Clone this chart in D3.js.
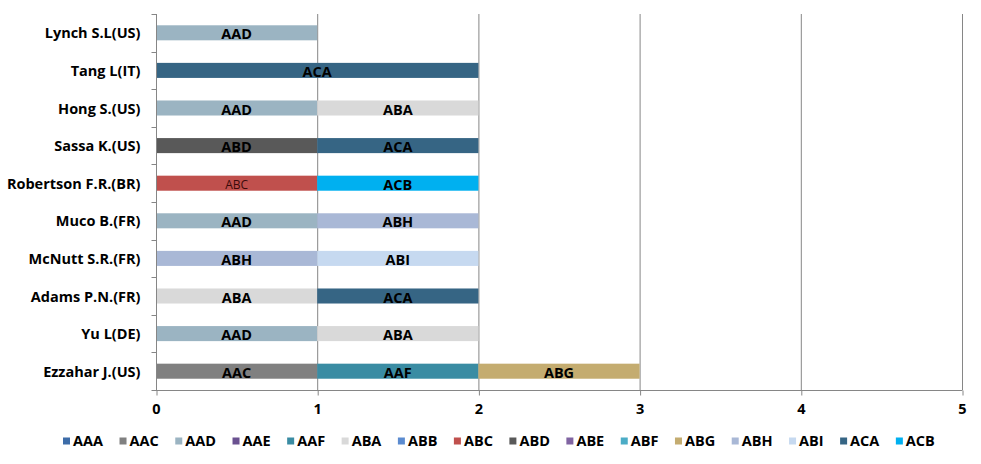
<!DOCTYPE html>
<html><head><meta charset="utf-8">
<script src="https://cdn.jsdelivr.net/npm/d3@7"></script>
<style>
body{margin:0;background:#fff;}
text{font-family:"Open Sans","Noto Sans",sans-serif;}
</style></head>
<body><svg id="c" width="981" height="464"></svg>
<script>
const categories = ["Lynch S.L(US)","Tang L(IT)","Hong S.(US)","Sassa K.(US)","Robertson F.R.(BR)","Muco B.(FR)","McNutt S.R.(FR)","Adams P.N.(FR)","Yu L(DE)","Ezzahar J.(US)"];
const seriesNames = ["AAA","AAC","AAD","AAE","AAF","ABA","ABB","ABC","ABD","ABE","ABF","ABG","ABH","ABI","ACA","ACB"];
const seriesColors = ["#3D6CA8","#808080","#9BB4C2","#6A5190","#3A8CA3","#D9D9D9","#5B8BD0","#C0504D","#595959","#8064A2","#4BACC6","#C4AC70","#A9B8D6","#C6D9F0","#366584","#00B0F0"];
// values per category, top to bottom
const AAA = [0,0,0,0,0,0,0,0,0,0];
const AAC = [0,0,0,0,0,0,0,0,0,1];
const AAD = [1,0,1,0,0,1,0,0,1,0];
const AAE = [0,0,0,0,0,0,0,0,0,0];
const AAF = [0,0,0,0,0,0,0,0,0,1];
const ABA = [0,0,1,0,0,0,0,1,1,0];
const ABB = [0,0,0,0,0,0,0,0,0,0];
const ABC = [0,0,0,0,1,0,0,0,0,0];
const ABD = [0,0,0,1,0,0,0,0,0,0];
const ABE = [0,0,0,0,0,0,0,0,0,0];
const ABF = [0,0,0,0,0,0,0,0,0,0];
const ABG = [0,0,0,0,0,0,0,0,0,1];
const ABH = [0,0,0,0,0,1,1,0,0,0];
const ABI = [0,0,0,0,0,0,1,0,0,0];
const ACA = [0,2,0,1,0,0,0,1,0,0];
const ACB = [0,0,0,0,1,0,0,0,0,0];
const xTicks = [0,1,2,3,4,5];

const seriesValues = {AAA,AAC,AAD,AAE,AAF,ABA,ABB,ABC,ABD,ABE,ABF,ABG,ABH,ABI,ACA,ACB};
const rows = categories.map((c,i)=>{const r={cat:c}; seriesNames.forEach(s=>r[s]=seriesValues[s][i]); return r;});
const stack = d3.stack().keys(seriesNames)(rows);

const FS = 14.5;
const svg = d3.select("#c");
const m = {l:156, r:19, t:14, b:74};
const W = 981, H = 464;
const x = d3.scaleLinear().domain([0,5]).range([m.l, W-m.r]);
const y = d3.scaleBand().domain(categories).range([m.t, H-m.b]).paddingInner(0.6).paddingOuter(0.3);
const color = d3.scaleOrdinal().domain(seriesNames).range(seriesColors);
const gridC = "#868686";

// gridlines
svg.append("g").selectAll("line").data(xTicks.slice(1)).join("line")
  .attr("x1",d=>x(d)+0.5).attr("x2",d=>x(d)+0.5).attr("y1",m.t).attr("y2",H-m.b)
  .attr("stroke",gridC).attr("stroke-width",1);

// bars
const g = svg.append("g");
stack.forEach(layer=>{
  const key = layer.key;
  layer.forEach((d,i)=>{
    if(d[1]-d[0] <= 0) return;
    g.append("rect").attr("x",x(d[0])).attr("width",x(d[1])-x(d[0]))
      .attr("y",y(categories[i])).attr("height",y.bandwidth()).attr("fill",color(key));
    const isABC = key==="ABC";
    g.append("text").attr("x",(x(d[0])+x(d[1]))/2).attr("y",y(categories[i])+y.bandwidth()/2+1)
      .attr("dy","0.38em").attr("text-anchor","middle")
      .attr("font-size",isABC?12:FS).attr("font-weight",isABC?"normal":"bold")
      .attr("fill",isABC?"#3a0a0a":"#000").text(key);
  });
});

// x axis
const xa = svg.append("g").attr("transform",`translate(0,${H-m.b+0.5})`)
  .call(d3.axisBottom(x).tickValues(xTicks).tickSize(5).tickPadding(8).tickFormat(d3.format("d")));
xa.select(".domain").attr("stroke",gridC).attr("d",`M${m.l},0H${x(5)+0.5}`);
xa.selectAll(".tick line").attr("stroke",gridC).attr("transform","translate(0.5,0)");
xa.selectAll(".tick text").attr("font-size",FS).attr("font-weight","bold").attr("fill","#000")
  .attr("font-family",'"Open Sans","Noto Sans",sans-serif');

// y axis
const yb = d3.scaleLinear().domain([0,categories.length]).range([m.t, H-m.b]);
const ya = svg.append("g").attr("transform",`translate(${m.l+0.5},0)`);
ya.append("line").attr("y1",m.t).attr("y2",H-m.b).attr("stroke",gridC);
ya.selectAll("line.t").data(d3.range(categories.length+1)).join("line").attr("class","t")
  .attr("x1",-5).attr("x2",0).attr("y1",d=>Math.round(yb(d))+0.5).attr("y2",d=>Math.round(yb(d))+0.5).attr("stroke",gridC);
ya.selectAll("text").data(categories).join("text")
  .attr("x",-16).attr("y",d=>y(d)+y.bandwidth()/2).attr("dy","0.38em").attr("text-anchor","end")
  .attr("font-size",FS).attr("font-weight","bold").attr("fill","#000").text(d=>d);

// legend
const lg = svg.append("g");
let lx = 63; const ly = 441;
seriesNames.forEach((s,i)=>{
  lg.append("rect").attr("x",lx).attr("y",ly-3.5).attr("width",7).attr("height",7).attr("fill",seriesColors[i]);
  const t = lg.append("text").attr("x",lx+10).attr("y",ly).attr("dy","0.36em")
    .attr("font-size",FS).attr("font-weight","bold").attr("fill","#000").text(s);
  const w = t.node().getComputedTextLength();
  lx += 10 + w + 16.5;
});
</script></body></html>
